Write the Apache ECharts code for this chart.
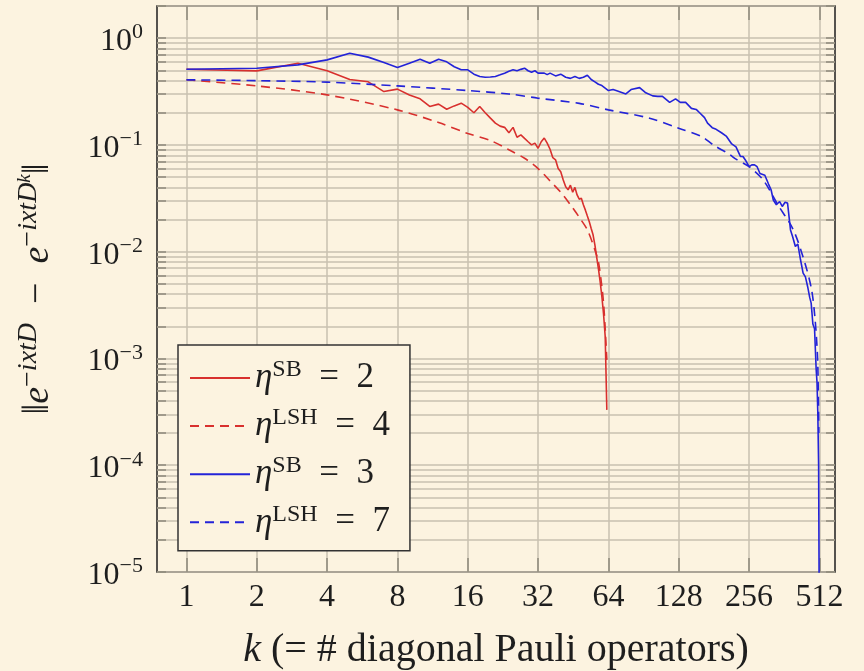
<!DOCTYPE html>
<html>
<head>
<meta charset="utf-8">
<script src="https://cdn.jsdelivr.net/npm/echarts@6/dist/echarts.min.js"></script>
<style>
  html, body { margin: 0; padding: 0; background: #fcf3e0; }
  #main { width: 864px; height: 671px; }
</style>
</head>
<body>
<div id="main"></div>
<script>
// tick values
var kTicks = [1, 2, 4, 8, 16, 32, 64, 128, 256, 512];
var yMajor = [1e-5, 1e-4, 1e-3, 1e-2, 1e-1, 1];

// eta_SB = 2 (red, solid)
var kSB2 = [1,2,3,4,5,6,7,8,9,10,11,12,13,14,15,16,17,18,19,20,21,22,23,24,25,26,27,28,29,30,31,32,33,34,35,36,37,38,39,40,41,42,43,44,45,46,47,48,49,50,51,52,53,54,55,56,57,58,59,60,61,62,63];
var errSB2 = [0.512,0.494,0.583,0.494,0.41,0.39,0.316,0.333,0.294,0.27,0.229,0.241,0.216,0.232,0.246,0.225,0.2,0.229,0.2,0.178,
              0.16,0.15,0.146,0.13,0.146,0.118,0.124,0.115,0.107,0.1,0.104,0.093,0.107,0.116,0.104,0.091,0.076,0.0725,0.06,0.056,
              0.047,0.0405,0.038,0.042,0.036,0.040,0.034,0.031,0.0316,0.0275,0.0245,0.0216,0.0191,0.0165,0.0144,0.0116,0.0089,0.0069,0.0052,0.0038,
              0.0026,0.0016,0.00033];

// eta_LSH = 4 (red, dashed)
var kLSH4 = [1,2,4,8,12,16,20,24,28,32,36,40,44,48,52,56,58,60,61,62,63];
var errLSH4 = [0.407,0.357,0.294,0.213,0.162,0.128,0.11,0.09,0.075,0.06,0.046,0.036,0.0275,0.021,0.016,0.0104,0.008,0.0047,0.0033,0.0019,0.00097];

// eta_SB = 3 (blue, solid)
var kSB3 = [1,2,3,4,5,6,7,8,9,10,11,12,13,14,15,16,17,18,19,20,21,22,23,24,25,26,27,28,29,30,31,32,34,35,36,38,40,42,44,46,48,50,52,54,56,58,60,
            64,67,70,76,80,87,92,99,104,109,117,124,130,137,145,152,158,165,170,178,185,195,205,215,225,235,241,248,256,263,270,277,285,299,
            310,318,325,335,346,355,365,374,385,393,404,414,425,436,446,456,465,472,480,488,496,500,504,508,511];
var errSB3 = [0.512,0.523,0.562,0.626,0.723,0.664,0.59,0.53,0.583,0.635,0.583,0.635,0.60,0.54,0.505,0.505,0.46,0.437,0.43,0.432,0.437,0.453,
              0.47,0.49,0.505,0.495,0.51,0.523,0.495,0.48,0.495,0.47,0.47,0.455,0.47,0.443,0.46,0.43,0.42,0.437,0.42,0.43,0.45,0.41,0.39,0.37,0.36,
              0.323,0.33,0.32,0.30,0.33,0.344,0.31,0.288,0.285,0.285,0.25,0.27,0.25,0.25,0.22,0.215,0.198,0.18,0.16,0.145,0.14,0.13,0.12,0.103,
              0.096,0.078,0.078,0.071,0.0625,0.065,0.065,0.0625,0.054,0.052,0.043,0.038,0.0305,0.0275,0.0295,0.0265,0.029,0.0285,0.016,0.0139,
              0.0112,0.0118,0.0084,0.0063,0.0058,0.0047,0.00375,0.0033,0.0021,0.0019,0.00078,0.0006,0.00031,0.0001,0.000005];

// eta_LSH = 7 (blue, dashed)
var kLSH7 = [1,2,4,8,16,24,32,48,64,96,128,160,180,212,224,256,294,340,396,444,474,490,502,506,509];
var errLSH7 = [0.407,0.40,0.387,0.357,0.323,0.30,0.274,0.245,0.213,0.178,0.143,0.12,0.10,0.081,0.074,0.0625,0.047,0.0275,0.016,0.0078,0.0044,0.0024,0.0011,0.00054,0.0002];

var legendNames = ['SB2', 'LSH4', 'SB3', 'LSH7'];
var legendLabels = {
    SB2: '{e|η}{s|SB}{t|\u2002=\u20022}',
    LSH4: '{e|η}{s|LSH}{t|\u2002=\u20024}',
    SB3: '{e|η}{s|SB}{t|\u2002=\u20023}',
    LSH7: '{e|η}{s|LSH}{t|\u2002=\u20027}'
};

var FONT = 'Liberation Serif';
var BG = '#fcf3e0';
var GRID = '#c8c1b0';
var TICK = '#8f897b';
var INK = '#1e1e1e';
var RED = '#d8302e';
var BLUE = '#2323d8';

function pairs(xs, ys) {
    return xs.map(function (x, i) { return [x, ys[i]]; });
}

var yTicks = [];
yMajor.forEach(function (m) {
    for (var j = 1; j <= 9; j++) {
        if (m === 1 && j > 2) break;
        yTicks.push(m * j);
    }
});

var myChart = echarts.init(document.getElementById('main'));
var option = {
    backgroundColor: BG,
    animation: false,
    grid: {
        left: 157, right: 29, top: 6, bottom: 99,
        outerBoundsMode: 'none', containLabel: false,
        show: true, backgroundColor: BG, borderColor: INK, borderWidth: 1.5
    },
    legend: {
        data: legendNames,
        orient: 'vertical',
        left: 178, top: 345,
        padding: [13, 20, 11, 11],
        itemWidth: 60, itemHeight: 2, itemGap: 10.6,
        itemStyle: { opacity: 0 },
        backgroundColor: BG,
        borderColor: '#333', borderWidth: 1.5,
        formatter: function (name) { return legendLabels[name]; },
        textStyle: {
            color: INK,
            rich: {
                e: { fontFamily: FONT, fontSize: 35, fontStyle: 'italic', lineHeight: 40, color: INK },
                s: { fontFamily: FONT, fontSize: 24, lineHeight: 24, verticalAlign: 'top', color: INK },
                t: { fontFamily: FONT, fontSize: 35, lineHeight: 40, color: INK }
            }
        }
    },
    xAxis: [{
        type: 'log', logBase: 2, min: 0.748, max: 597,
        name: '{i|k}{r| (= # diagonal Pauli operators)}',
        nameLocation: 'middle', nameGap: 58,
        nameTextStyle: {
            rich: {
                i: { fontFamily: FONT, fontSize: 40, fontStyle: 'italic', color: INK },
                r: { fontFamily: FONT, fontSize: 40, color: INK }
            }
        },
        axisLine: { show: false },
        axisTick: { show: true, inside: true, length: 14, customValues: kTicks, lineStyle: { color: TICK, width: 1.5 } },
        axisLabel: { customValues: kTicks, fontFamily: FONT, fontSize: 32, color: INK, margin: 10 },
        splitLine: { show: true, lineStyle: { color: GRID, width: 1.5 } }
    }, {
        type: 'log', logBase: 2, min: 0.748, max: 597, position: 'top',
        axisLine: { show: false },
        axisTick: { show: true, inside: true, length: 14, customValues: kTicks, lineStyle: { color: TICK, width: 1.5 } },
        axisLabel: { show: false },
        splitLine: { show: false }
    }],
    yAxis: [{
        type: 'log', logBase: 10, min: 1e-5, max: 2,
        name: '{u|‖}{i|e}{su|−}{si|ixtD}{u|\u2002−\u2002}{i|e}{su|−}{si|ixtD}{k|k}{u|‖}',
        nameLocation: 'middle', nameRotate: 90, nameGap: 96,
        nameTextStyle: {
            rich: {
                u: { fontFamily: FONT, fontSize: 38, lineHeight: 46, color: INK },
                i: { fontFamily: FONT, fontSize: 38, lineHeight: 46, color: INK, fontStyle: 'italic' },
                su: { fontFamily: FONT, fontSize: 28, lineHeight: 28, verticalAlign: 'top', color: INK },
                si: { fontFamily: FONT, fontSize: 28, lineHeight: 28, verticalAlign: 'top', color: INK, fontStyle: 'italic' },
                k: { fontFamily: FONT, fontSize: 19, lineHeight: 40, verticalAlign: 'top', color: INK, fontStyle: 'italic' }
            }
        },
        axisLine: { show: false },
        axisTick: { show: true, inside: true, length: 9, customValues: yTicks, lineStyle: { color: TICK, width: 1.5 } },
        axisLabel: {
            customValues: yMajor, margin: 14, padding: [7, 0, 0, 0],
            formatter: function (v) {
                var e = Math.round(Math.log10(v));
                return '{b|10}{s|' + (e < 0 ? '−' + (-e) : e) + '}';
            },
            rich: {
                b: { fontFamily: FONT, fontSize: 32, lineHeight: 40, color: INK },
                s: { fontFamily: FONT, fontSize: 22, lineHeight: 22, verticalAlign: 'top', color: INK }
            }
        },
        splitLine: { show: true, lineStyle: { color: GRID, width: 1.5 } }
    }, {
        type: 'log', logBase: 10, min: 1e-5, max: 2, position: 'right',
        axisLine: { show: false },
        axisTick: { show: true, inside: true, length: 9, customValues: yTicks, lineStyle: { color: TICK, width: 1.5 } },
        axisLabel: { show: false },
        splitLine: { show: false }
    }],
    series: [{
        name: 'SB2', type: 'line', data: pairs(kSB2, errSB2),
        showSymbol: false, symbol: 'none',
        lineStyle: { color: RED, width: 1.6 }, itemStyle: { color: RED }
    }, {
        name: 'LSH4', type: 'line', data: pairs(kLSH4, errLSH4),
        showSymbol: false, symbol: 'none', smooth: 0.3,
        lineStyle: { color: RED, width: 1.6, type: [9, 6] }, itemStyle: { color: RED }
    }, {
        name: 'SB3', type: 'line', data: pairs(kSB3, errSB3),
        showSymbol: false, symbol: 'none',
        lineStyle: { color: BLUE, width: 1.6 }, itemStyle: { color: BLUE }
    }, {
        name: 'LSH7', type: 'line', data: pairs(kLSH7, errLSH7),
        showSymbol: false, symbol: 'none', smooth: 0.3,
        lineStyle: { color: BLUE, width: 1.6, type: [9, 6] }, itemStyle: { color: BLUE }
    }]
};
myChart.setOption(option);
</script>
</body>
</html>
